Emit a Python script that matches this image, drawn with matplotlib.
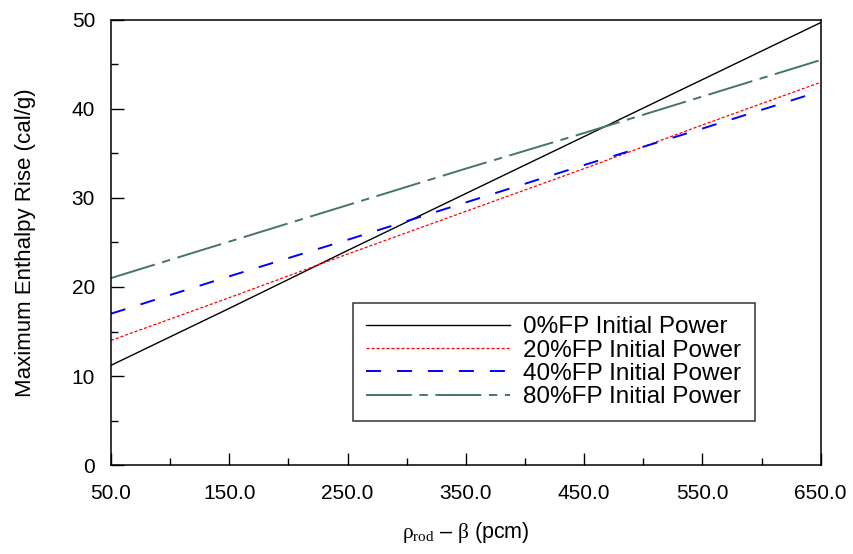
import matplotlib
matplotlib.use("Agg")
import matplotlib.pyplot as plt
from matplotlib.ticker import MultipleLocator

plt.rcParams['font.family'] = ['Liberation Sans', 'DejaVu Sans']
plt.rcParams['mathtext.fontset'] = 'custom'
plt.rcParams['mathtext.rm'] = 'Liberation Serif'
plt.rcParams['mathtext.it'] = 'Liberation Serif'
plt.rcParams['lines.scale_dashes'] = False

rho = [50, 150, 250, 350, 450, 550, 650]
fp0 = [11.2, 17.6, 24.1, 30.5, 36.9, 43.3, 49.7]
fp20 = [14.0, 18.8, 23.7, 28.5, 33.3, 38.2, 43.0]
fp40 = [17.0, 21.2, 25.3, 29.5, 33.7, 37.8, 42.0]
fp80 = [21.0, 25.1, 29.2, 33.3, 37.3, 41.4, 45.5]
labels = ["0%FP Initial Power", "20%FP Initial Power",
          "40%FP Initial Power", "80%FP Initial Power"]

fig = plt.figure(figsize=(8.54, 5.54), dpi=100)
ax = fig.add_axes([0.130, 0.1606, 0.831, 0.8034])

ax.plot(rho, fp0, color="black", lw=1.0, label=labels[0])
ax.plot(rho, fp20, color="red", lw=0.9, dashes=(2.2, 1.4), label=labels[1])
ax.plot(rho, fp40, color="blue", lw=1.4, dashes=(10.8, 11.5), label=labels[2])
ax.plot(rho, fp80, color="#467370", lw=1.4, dashes=(33, 5.5, 6, 5.5), label=labels[3])

ax.set_xlim(50, 650)
ax.set_ylim(0, 50)
ax.xaxis.set_minor_locator(MultipleLocator(50))
ax.yaxis.set_major_locator(MultipleLocator(10))
ax.yaxis.set_minor_locator(MultipleLocator(5))
ax.set_xticks(rho)
ax.set_xticklabels(["%.1f" % v for v in rho])
ax.tick_params(which="both", direction="in", labelsize=15, top=False, right=False)
ax.tick_params(which="major", length=9, width=1)
ax.tick_params(which="minor", length=5, width=1)
ax.tick_params(axis="x", pad=14)
ax.tick_params(axis="y", pad=11.5)
for s in ax.spines.values():
    s.set_linewidth(1.1)

ax.set_ylabel("Maximum Enthalpy Rise (cal/g)", fontsize=16, labelpad=26)
ax.set_xlabel(r"$\rho_{\mathrm{rod}}$ – $\beta$ (pcm)", fontsize=15.5, labelpad=12)

leg = ax.legend(loc="upper left", bbox_to_anchor=(353 / 854, 1 - 303 / 554),
                bbox_transform=fig.transFigure, fontsize=17.5, frameon=True,
                fancybox=False, edgecolor="black", handlelength=5.9,
                borderpad=0.55, borderaxespad=0, labelspacing=0.05,
                handletextpad=0.55)
leg.get_frame().set_linewidth(1.1)

fig.savefig("out.png", dpi=100)
